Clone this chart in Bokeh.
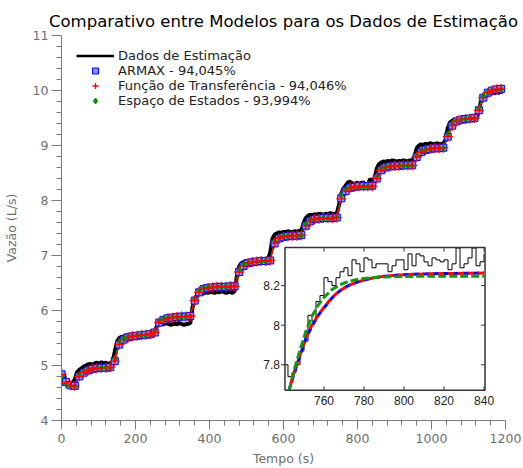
from bokeh.plotting import figure
from bokeh.models import Range1d, Legend, LegendItem, FixedTicker
from bokeh.embed import file_html
from bokeh.resources import INLINE
from bokeh.core.properties import value

title_text = "Comparativo entre Modelos para os Dados de Estimação"
x_label = "Tempo (s)"
y_label = "Vazão (L/s)"
series_labels = ["Dados de Estimação", "ARMAX - 94,045%",
                 "Função de Transferência - 94,046%", "Espaço de Estados - 93,994%"]
x_ticks = [0, 200, 400, 600, 800, 1000, 1200]
y_ticks = [4, 5, 6, 7, 8, 9, 10, 11]

# measured data, one sample every 6 s
t_data = list(range(0, 1200, 6))
dados = [
    4.86, 4.85, 4.70, 4.67, 4.66, 4.68, 4.75, 4.88, 4.92, 4.95,
    4.98, 5.00, 5.02, 5.03, 5.01, 5.04, 5.05, 5.03, 5.06, 5.04,
    5.05, 5.03, 5.04, 5.06, 5.25, 5.43, 5.50, 5.52, 5.53, 5.55,
    5.54, 5.56, 5.55, 5.53, 5.56, 5.55, 5.54, 5.56, 5.55, 5.54,
    5.53, 5.55, 5.62, 5.72, 5.74, 5.76, 5.75, 5.77, 5.76, 5.74,
    5.75, 5.76, 5.75, 5.77, 5.76, 5.74, 5.75, 5.76, 5.77, 6.05,
    6.22, 6.28, 6.30, 6.32, 6.31, 6.33, 6.32, 6.34, 6.33, 6.32,
    6.34, 6.33, 6.35, 6.34, 6.32, 6.33, 6.34, 6.32, 6.35, 6.62,
    6.80, 6.86, 6.88, 6.90, 6.89, 6.91, 6.90, 6.92, 6.91, 6.90,
    6.92, 6.91, 6.90, 6.93, 7.05, 7.30, 7.38, 7.40, 7.42, 7.41,
    7.43, 7.42, 7.44, 7.43, 7.42, 7.44, 7.43, 7.45, 7.44, 7.58,
    7.68, 7.72, 7.74, 7.73, 7.75, 7.74, 7.76, 7.75, 7.74, 7.76,
    7.75, 7.77, 7.76, 7.75, 7.77, 7.92, 8.12, 8.22, 8.27, 8.33,
    8.34, 8.31, 8.27, 8.33, 8.30, 8.32, 8.33, 8.28, 8.29, 8.39,
    8.36, 8.40, 8.58, 8.66, 8.69, 8.71, 8.70, 8.72, 8.71, 8.73,
    8.72, 8.70, 8.72, 8.71, 8.73, 8.72, 8.71, 8.73, 8.72, 8.80,
    8.95, 9.00, 9.02, 9.01, 9.03, 9.02, 9.04, 9.03, 9.02, 9.04,
    9.03, 9.02, 9.04, 9.10, 9.32, 9.42, 9.45, 9.47, 9.46, 9.48,
    9.47, 9.49, 9.48, 9.50, 9.49, 9.48, 9.50, 9.49, 9.62, 9.82,
    9.90, 9.93, 9.95, 9.94, 9.96, 9.95, 9.97, 9.96, 9.98, 9.97,
]

# model outputs, one sample every 12 s
t_model = list(range(0, 1200, 12))
armax = [
    4.84, 4.70, 4.64, 4.63, 4.80, 4.87, 4.91, 4.94, 4.95, 4.96,
    4.96, 4.97, 5.08, 5.38, 5.47, 5.51, 5.53, 5.54, 5.55, 5.56,
    5.57, 5.60, 5.78, 5.83, 5.86, 5.87, 5.88, 5.89, 5.89, 5.90,
    6.18, 6.33, 6.39, 6.41, 6.42, 6.43, 6.43, 6.43, 6.44, 6.44,
    6.70, 6.81, 6.86, 6.88, 6.89, 6.90, 6.90, 6.91, 7.22, 7.31,
    7.34, 7.35, 7.36, 7.36, 7.37, 7.54, 7.62, 7.66, 7.67, 7.68,
    7.68, 7.68, 7.69, 8.04, 8.17, 8.23, 8.25, 8.26, 8.26, 8.26,
    8.27, 8.40, 8.55, 8.60, 8.62, 8.63, 8.63, 8.64, 8.64, 8.64,
    8.79, 8.88, 8.92, 8.94, 8.95, 8.95, 8.96, 9.16, 9.36, 9.44,
    9.47, 9.48, 9.49, 9.50, 9.64, 9.87, 9.96, 10.00, 10.02, 10.03,
]
tf = [
    4.84, 4.69, 4.64, 4.63, 4.80, 4.87, 4.91, 4.94, 4.95, 4.96,
    4.96, 4.97, 5.08, 5.38, 5.47, 5.51, 5.53, 5.54, 5.55, 5.56,
    5.57, 5.60, 5.78, 5.83, 5.86, 5.87, 5.88, 5.89, 5.89, 5.90,
    6.18, 6.33, 6.39, 6.41, 6.42, 6.43, 6.43, 6.43, 6.44, 6.44,
    6.70, 6.81, 6.86, 6.88, 6.89, 6.90, 6.90, 6.91, 7.22, 7.31,
    7.34, 7.35, 7.36, 7.36, 7.37, 7.54, 7.62, 7.66, 7.67, 7.68,
    7.68, 7.68, 7.69, 8.03, 8.17, 8.23, 8.25, 8.26, 8.26, 8.26,
    8.26, 8.40, 8.55, 8.60, 8.62, 8.63, 8.63, 8.64, 8.64, 8.64,
    8.79, 8.88, 8.92, 8.94, 8.95, 8.95, 8.96, 9.16, 9.36, 9.44,
    9.47, 9.48, 9.49, 9.50, 9.64, 9.87, 9.96, 10.00, 10.02, 10.03,
]
ss = [
    4.80, 4.66, 4.62, 4.62, 4.82, 4.89, 4.92, 4.94, 4.95, 4.95,
    4.96, 4.96, 5.12, 5.43, 5.50, 5.52, 5.53, 5.54, 5.55, 5.55,
    5.56, 5.62, 5.81, 5.85, 5.86, 5.87, 5.88, 5.88, 5.89, 5.89,
    6.22, 6.37, 6.41, 6.42, 6.42, 6.43, 6.43, 6.43, 6.43, 6.44,
    6.74, 6.84, 6.87, 6.88, 6.89, 6.89, 6.90, 6.91, 7.26, 7.33,
    7.35, 7.35, 7.36, 7.36, 7.36, 7.57, 7.64, 7.66, 7.67, 7.67,
    7.67, 7.67, 7.70, 8.09, 8.20, 8.23, 8.24, 8.245, 8.245, 8.245,
    8.25, 8.44, 8.58, 8.61, 8.62, 8.63, 8.63, 8.63, 8.63, 8.63,
    8.82, 8.90, 8.93, 8.94, 8.94, 8.95, 8.95, 9.20, 9.40, 9.45,
    9.47, 9.48, 9.49, 9.49, 9.68, 9.90, 9.97, 10.00, 10.01, 10.02,
]

# zoomed window (inset)
t_zoom_data = list(range(740, 842, 2))
dados_zoom = [
    7.80, 7.74, 7.76, 7.80, 7.87, 7.92, 8.05, 8.02, 8.12, 8.15,
    8.24, 8.22, 8.20, 8.24, 8.27, 8.29, 8.25, 8.33, 8.31, 8.27,
    8.34, 8.33, 8.29, 8.31, 8.31, 8.31, 8.27, 8.30, 8.33, 8.33,
    8.28, 8.36, 8.30, 8.36, 8.35, 8.32, 8.30, 8.34, 8.33, 8.32,
    8.33, 8.28, 8.31, 8.39, 8.29, 8.31, 8.34, 8.39, 8.30, 8.32,
    8.36,
]
t_zoom_model = [742.5, 745, 748, 751, 754, 757, 760, 764, 768, 772,
                776, 780, 785, 790, 800, 810, 820, 830, 840]
armax_zoom = [7.67, 7.755, 7.845, 7.935, 7.995, 8.048, 8.088, 8.138, 8.174, 8.199,
              8.215, 8.228, 8.24, 8.247, 8.255, 8.259, 8.261, 8.262, 8.264]
tf_zoom = [7.67, 7.76, 7.85, 7.94, 8.00, 8.05, 8.09, 8.14, 8.175, 8.20,
           8.215, 8.228, 8.24, 8.247, 8.255, 8.259, 8.261, 8.262, 8.263]
ss_zoom = [7.67, 7.77, 7.875, 7.97, 8.045, 8.10, 8.14, 8.18, 8.205, 8.22,
           8.23, 8.236, 8.241, 8.244, 8.246, 8.247, 8.247, 8.247, 8.247]
zoom_xticks = [760, 780, 800, 820, 840]
zoom_xtick_labels = ["760", "780", "800", "820", "840"]
zoom_yticks = [7.8, 8.0, 8.2]
zoom_ytick_labels = ["7.8", "8", "8.2"]

assert len(dados) == len(t_data)
assert len(armax) == len(tf) == len(ss) == len(t_model)
assert len(dados_zoom) == len(t_zoom_data)
assert len(armax_zoom) == len(tf_zoom) == len(ss_zoom) == len(t_zoom_model)

FONT = "DejaVu Sans"
GRAY = "#7a7a7a"

p = figure(width=523, height=468, x_range=Range1d(0, 1200), y_range=Range1d(4, 11),
           output_backend="svg", toolbar_location=None, title=title_text,
           min_border_left=60, min_border_right=18, min_border_top=35, min_border_bottom=44)
p.title.text_font = FONT
p.title.text_font_size = "16.5px"
p.title.text_font_style = "normal"
p.title.text_color = "black"
p.title.align = "center"
p.title.standoff = 9
p.grid.visible = False
p.outline_line_color = None
p.background_fill_color = "white"
p.border_fill_color = "white"


def minor_of(ticks):
    out = []
    for a, b in zip(ticks[:-1], ticks[1:]):
        out += [a + (b - a) * k / 5 for k in range(1, 5)]
    return out


p.xaxis.ticker = FixedTicker(ticks=x_ticks, minor_ticks=minor_of(x_ticks))
p.yaxis.ticker = FixedTicker(ticks=y_ticks, minor_ticks=minor_of(y_ticks))
p.xaxis.axis_label = x_label
p.yaxis.axis_label = y_label
for ax in (p.xaxis[0], p.yaxis[0]):
    ax.axis_line_color = GRAY
    ax.major_tick_line_color = GRAY
    ax.minor_tick_line_color = GRAY
    ax.major_tick_in = 0
    ax.minor_tick_in = 0
    ax.minor_tick_out = 5
    ax.major_label_text_color = "#6e6e6e"
    ax.major_label_text_font = FONT
    ax.major_label_text_font_size = "12.5px"
    ax.axis_label_text_font = FONT
    ax.axis_label_text_font_size = "12.5px"
    ax.axis_label_text_font_style = "normal"
    ax.axis_label_text_color = "#6e6e6e"
p.xaxis.major_tick_out = 9
p.yaxis.major_tick_out = 10
p.xaxis.major_label_standoff = 4
p.yaxis.major_label_standoff = 3
p.xaxis.axis_label_standoff = 5
p.yaxis.axis_label_standoff = 11

# main chart
p.line(t_data, dados, line_color="black", line_width=4)
p.line(t_model, armax, line_color="#0000ff", line_width=1.2)
p.line(t_model, ss, line_color="#00a000", line_width=1.2)
p.line(t_model, tf, line_color="#ff0000", line_width=1.2)
r_armax = p.scatter(t_model, armax, marker="square", size=7,
                    fill_color="#8c8cff", line_color="#0000ff", line_width=1)
r_ss = p.scatter(t_model, ss, marker="diamond", size=6.5,
                 fill_color="#00a000", line_color="#008800", line_width=1)
r_tf = p.scatter(t_model, tf, marker="cross", size=10, line_color="#ff0000", line_width=1.3)
# legend swatch for the measured data (same series, thinner stroke as in the key)
r_dados_key = p.line(t_data[:1], dados[:1], line_color="black", line_width=2.5)

legend = Legend(items=[
    LegendItem(label=series_labels[0], renderers=[r_dados_key]),
    LegendItem(label=series_labels[1], renderers=[r_armax]),
    LegendItem(label=series_labels[2], renderers=[r_tf]),
    LegendItem(label=series_labels[3], renderers=[r_ss]),
], location=(15, 312))
legend.border_line_color = None
legend.background_fill_alpha = 0
legend.label_text_font = FONT
legend.label_text_font_size = "13px"
legend.label_text_color = "#222222"
legend.glyph_width = 38
legend.glyph_height = 15
legend.label_height = 15
legend.spacing = 0
legend.padding = 0
legend.margin = 0
legend.label_standoff = 4
p.add_layout(legend)

# inset
zx = Range1d(740.5, 840.5)
zy = Range1d(7.672, 8.392)
sub = p.subplot(x_source=zx, y_source=zy,
                x_target=Range1d(604.0, 1144.7), y_target=Range1d(4.552, 7.144))
sub.quad(left=[zx.start], right=[zx.end], bottom=[zy.start], top=[zy.end],
         fill_color="white", line_color=None)
sub.step(t_zoom_data, dados_zoom, mode="after", line_color="black", line_width=1)
sub.line(t_zoom_model, armax_zoom, line_color="#0000ff", line_width=3, line_dash="6 4")
sub.line(t_zoom_model, tf_zoom, line_color="#ff0000", line_width=3, line_dash="6 4",
         line_dash_offset=5)
sub.line(t_zoom_model, ss_zoom, line_color="#119911", line_width=3, line_dash="8 3")
sub.quad(left=[zx.start], right=[zx.end], bottom=[zy.start], top=[zy.end],
         fill_color=None, line_color="#333333", line_width=1.5)

tick_dx = 2.0     # 4 px in inset units
tick_dy = 0.02
n_x = len(zoom_xticks)
n_y = len(zoom_yticks)
sub.segment(x0=zoom_xticks, y0=[zy.end] * n_x, x1=zoom_xticks, y1=[zy.end - tick_dy] * n_x,
            line_color="#333333", line_width=1)
sub.segment(x0=zoom_xticks, y0=[zy.start] * n_x, x1=zoom_xticks, y1=[zy.start + tick_dy] * n_x,
            line_color="#333333", line_width=1)
sub.segment(x0=[zx.start] * n_y, y0=zoom_yticks, x1=[zx.start - tick_dx] * n_y, y1=zoom_yticks,
            line_color="#333333", line_width=1)
sub.segment(x0=[zx.end] * n_y, y0=zoom_yticks, x1=[zx.end - tick_dx] * n_y, y1=zoom_yticks,
            line_color="#333333", line_width=1)
sub.text(x=zoom_xticks, y=[zy.start] * n_x, text=zoom_xtick_labels, y_offset=6,
         text_align="center", text_baseline="top", text_font=value("Liberation Sans"),
         text_font_size="12px", text_color="#222222")
sub.text(x=[zx.start] * n_y, y=zoom_yticks, text=zoom_ytick_labels, x_offset=-5,
         text_align="right", text_baseline="middle", text_font=value("Liberation Sans"),
         text_font_size="12px", text_color="#222222")

open("out.html", "w").write(file_html(p, INLINE))
